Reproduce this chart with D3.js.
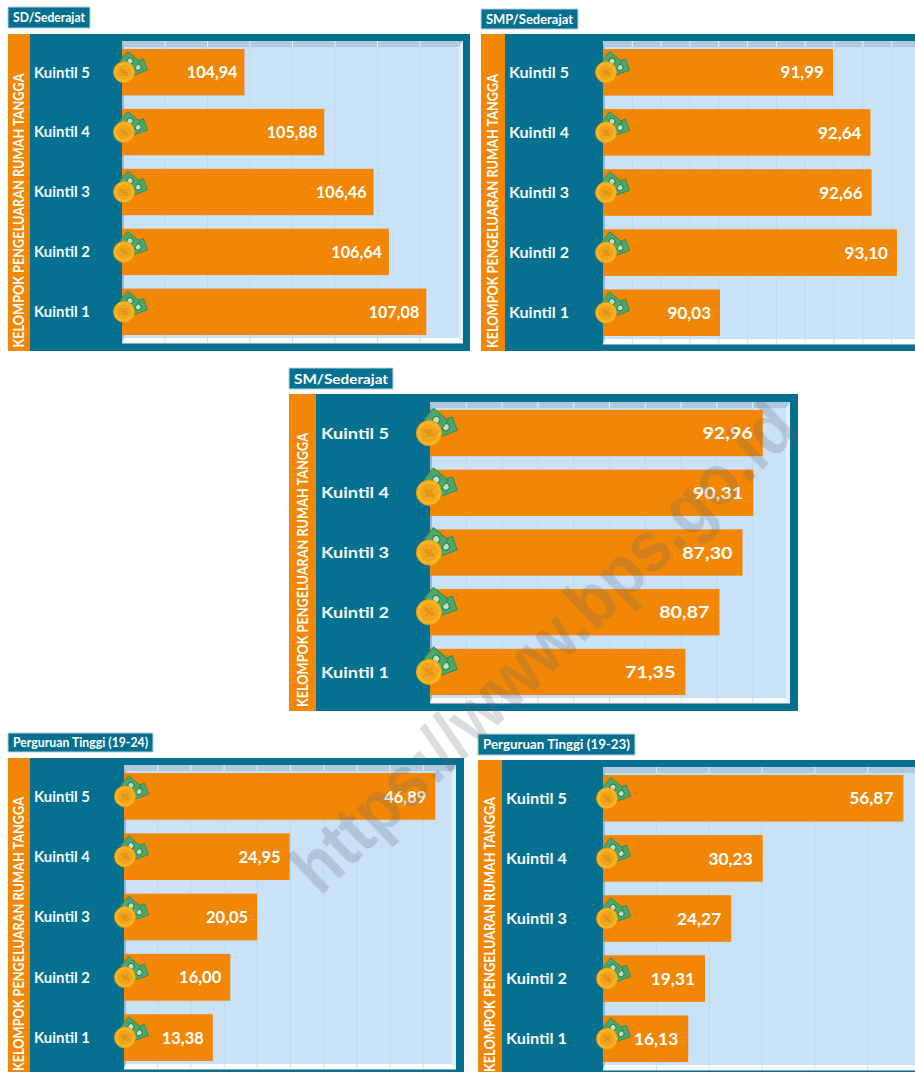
<!DOCTYPE html>
<html>
<head>
<meta charset="utf-8">
<script src="https://cdn.jsdelivr.net/npm/d3@7"></script>
<style>
    html, body { margin: 0; padding: 0; background: #fff; overflow: hidden; }
    text { font-family: Lato, "Open Sans", sans-serif; }
</style>
</head>
<body>
<div id="container"></div>
<script>
const kuintil = ['Kuintil 5', 'Kuintil 4', 'Kuintil 3', 'Kuintil 2', 'Kuintil 1'];

const sdValues = [104.94, 105.88, 106.46, 106.64, 107.08];
const smpValues = [91.99, 92.64, 92.66, 93.10, 90.03];
const smValues = [92.96, 90.31, 87.30, 80.87, 71.35];
const pt1924Values = [46.89, 24.95, 20.05, 16.00, 13.38];
const pt1923Values = [56.87, 30.23, 24.27, 19.31, 16.13];

const yTitle = 'KELOMPOK PENGELUARAN RUMAH TANGGA';

const colors = {
    teal: '#05708f',
    orange: '#f28705',
    wall: '#c9e2f8',
    grid: '#bfd9ee'
};

// frame = outer box, strip = right edge of orange band, x0/x1 = plot, top/bottom = plot
const panels = [
    { title: 'SD/Sederajat', values: sdValues, domain: [103.5, 107.5], step: 0.5,
      chip: [8, 7, 82, 21], chipFont: 13, frame: [8, 34, 470, 351], strip: 30, x0: 122, x1: 462,
      top: 41, bottom: 343, right: 463, labelX: 34, labelW: 56, labelFont: 15, valueFont: 17, valueStretch: 0.95, valuePad: 7, titleX: 19, titleY: 347.5, titleW: 274, coin: 1, coinDx: 2 },
    { title: 'SMP/Sederajat', values: smpValues, domain: [88, 93.5], step: 0.5,
      chip: [481, 9, 97, 20], chipFont: 13, frame: [481, 34, 925, 351], strip: 505, x0: 603, x1: 920,
      top: 41, bottom: 344, right: 925, labelX: 509, labelW: 60, labelFont: 15, valueFont: 17, valueStretch: 1, valuePad: 9, titleX: 493, titleY: 348, titleW: 274, coin: 1, coinDx: 3 },
    { title: 'SM/Sederajat', values: smValues, domain: [0, 100], step: 10,
      chip: [289, 368, 104, 21], chipFont: 14, frame: [289, 394, 798, 711], strip: 316, x0: 430, x1: 788,
      top: 402, bottom: 703, right: 790, labelX: 321, labelW: 68, labelFont: 15.5, valueFont: 17, valueStretch: 1.16, valuePad: 10, titleX: 303, titleY: 707, titleW: 274, coin: 1.2, coinDx: -1 },
    { title: 'Perguruan Tinggi (19-24)', values: pt1924Values, domain: [0, 50], step: 5,
      chip: [8, 733, 145, 19], chipFont: 13, frame: [8, 758, 464, 1085], strip: 30, x0: 124, x1: 456,
      top: 765, bottom: 1069, right: 456, labelX: 34, labelW: 56, labelFont: 15, valueFont: 17, valueStretch: 0.97, valuePad: 9, titleX: 19, titleY: 1071, titleW: 274, coin: 1, coinDx: 1 },
    { title: 'Perguruan Tinggi (19-23)', values: pt1923Values, domain: [0, 60], step: 10,
      chip: [478, 734, 157, 21], chipFont: 13, frame: [478, 760, 925, 1085], strip: 502, x0: 603, x1: 920,
      top: 767, bottom: 1070, right: 925, labelX: 506, labelW: 61, labelFont: 15, valueFont: 17, valueStretch: 1.02, valuePad: 10, titleX: 490, titleY: 1072, titleW: 275, coin: 1, coinDx: 4 }
];

const svg = d3.select('#container')
    .append('svg')
    .attr('width', 915)
    .attr('height', 1072)
    .style('display', 'block');

function drawPanel(p) {
    const g = svg.append('g');
    const [fx0, fy0, fx1, fy1] = p.frame;

    // title chip
    g.append('rect')
        .attr('x', p.chip[0]).attr('y', p.chip[1])
        .attr('width', p.chip[2]).attr('height', p.chip[3])
        .attr('fill', colors.teal)
        .attr('stroke', '#b9d3dc');
    g.append('text')
        .attr('x', p.chip[0] + 5)
        .attr('y', p.chip[1] + p.chip[3] / 2 + p.chipFont * 0.36)
        .attr('textLength', p.chip[2] - 10)
        .attr('lengthAdjust', 'spacingAndGlyphs')
        .attr('font-size', p.chipFont)
        .attr('font-weight', 700)
        .attr('fill', '#fff')
        .text(p.title);

    // frame
    g.append('rect')
        .attr('x', fx0).attr('y', fy0)
        .attr('width', fx1 - fx0).attr('height', fy1 - fy0)
        .attr('fill', colors.teal);
    g.append('rect')
        .attr('x', fx0).attr('y', fy0)
        .attr('width', p.strip - fx0).attr('height', fy1 - fy0)
        .attr('fill', colors.orange);
    g.append('text')
        .attr('transform', `translate(${p.titleX + 5},${p.titleY}) rotate(-90)`)
        .attr('textLength', p.titleW)
        .attr('lengthAdjust', 'spacingAndGlyphs')
        .attr('font-size', 14.5)
        .attr('font-weight', 700)
        .attr('fill', '#fff')
        .text(yTitle);

    // plot wall with bevels
    const wx0 = p.x0, wx1 = p.right, wy0 = p.top, wy1 = p.bottom;
    const bt = 6, bb = 5, bl = 2, br = 4;
    g.append('rect')
        .attr('x', wx0).attr('y', wy0)
        .attr('width', wx1 - wx0).attr('height', wy1 - wy0)
        .attr('fill', colors.wall);
    g.append('polygon')
        .attr('points', [[wx0, wy0], [wx1, wy0], [wx1 - br, wy0 + bt], [wx0 + bl, wy0 + bt]].join(' '))
        .attr('fill', '#afc9df');
    g.append('polygon')
        .attr('points', [[wx0, wy0], [wx0 + bl, wy0 + bt], [wx0 + bl, wy1 - bb], [wx0, wy1]].join(' '))
        .attr('fill', '#9db7cd');
    g.append('polygon')
        .attr('points', [[wx1, wy0], [wx1 - br, wy0 + bt], [wx1 - br, wy1 - bb], [wx1, wy1]].join(' '))
        .attr('fill', '#e2f0fb');
    g.append('polygon')
        .attr('points', [[wx0, wy1], [wx1, wy1], [wx1 - br, wy1 - bb], [wx0 + bl, wy1 - bb]].join(' '))
        .attr('fill', '#fbfdff');
    g.append('line')
        .attr('x1', wx0).attr('x2', wx1).attr('y1', wy1 + 0.5).attr('y2', wy1 + 0.5)
        .attr('stroke', '#8ea7b8');

    const x = d3.scaleLinear().domain(p.domain).range([p.x0, p.x1]);
    const y = d3.scaleBand()
        .domain(kuintil)
        .range([p.top, p.bottom])
        .paddingInner(0.225)
        .paddingOuter(0.133);

    // gridlines, white across the top bevel and pale across the bottom bevel
    const tickValues = d3.range(p.domain[0] + p.step, p.domain[1] + p.step / 2, p.step);
    const clipId = 'clip' + p.x0 + p.top;
    g.append('clipPath').attr('id', clipId)
        .append('rect')
        .attr('x', wx0).attr('y', wy0)
        .attr('width', wx1 - wx0 - br).attr('height', wy1 - wy0);
    const gridLayer = g.append('g').attr('clip-path', `url(#${clipId})`);
    const grid = gridLayer.append('g')
        .attr('transform', `translate(0,${wy1 - bb})`)
        .call(d3.axisTop(x).tickValues(tickValues).tickSize(wy1 - bb - wy0 - bt).tickFormat(''));
    grid.select('.domain').remove();
    grid.selectAll('line').attr('stroke', colors.grid);
    const gridTop = gridLayer.append('g')
        .attr('transform', `translate(0,${wy0 + bt})`)
        .call(d3.axisTop(x).tickValues(tickValues).tickSize(bt).tickFormat(''));
    gridTop.select('.domain').remove();
    gridTop.selectAll('line').attr('stroke', '#e6f1f9');
    const gridBottom = gridLayer.append('g')
        .attr('transform', `translate(0,${wy1})`)
        .call(d3.axisTop(x).tickValues(tickValues).tickSize(bb).tickFormat(''));
    gridBottom.select('.domain').remove();
    gridBottom.selectAll('line').attr('stroke', '#d5e2ec');

    // bars
    const rows = kuintil.map((k, i) => ({ k, v: p.values[i] }));
    g.append('g')
        .selectAll('rect')
        .data(rows)
        .enter()
        .append('rect')
        .attr('x', x(p.domain[0]))
        .attr('y', d => y(d.k))
        .attr('width', d => x(d.v) - x(p.domain[0]))
        .attr('height', y.bandwidth())
        .attr('fill', colors.orange);

    // value labels
    g.append('g')
        .selectAll('text')
        .data(rows)
        .enter()
        .append('text')
        .attr('x', d => x(d.v) - p.valuePad)
        .attr('y', d => y(d.k) + y.bandwidth() / 2 + p.valueFont * 0.36)
        .attr('text-anchor', 'end')
        .attr('font-size', p.valueFont)
        .attr('font-weight', 700)
        .attr('fill', '#fff')
        .text(d => d.v.toFixed(2).replace('.', ','))
        .attr('lengthAdjust', 'spacingAndGlyphs')
        .attr('textLength', function () { return this.getComputedTextLength() * p.valueStretch; });

    // category labels
    g.append('g')
        .selectAll('text')
        .data(kuintil)
        .enter()
        .append('text')
        .attr('x', p.labelX)
        .attr('y', d => y(d) + y.bandwidth() / 2 + p.labelFont * 0.36)
        .attr('textLength', p.labelW)
        .attr('lengthAdjust', 'spacingAndGlyphs')
        .attr('font-size', p.labelFont)
        .attr('font-weight', 700)
        .attr('fill', '#f4fbff')
        .text(d => d);

    // coin and banknote icons
    kuintil.forEach(k => {
        const icon = g.append('g')
            .attr('transform', `translate(${p.x0 + p.coinDx},${y(k) + y.bandwidth() / 2}) scale(${p.coin})`);
        [[14, -5, -20], [6, -11, 40]].forEach(([nx, ny, rot]) => {
            const note = icon.append('g').attr('transform', `translate(${nx},${ny}) rotate(${rot})`);
            note.append('rect').attr('x', -8).attr('y', -6).attr('width', 16).attr('height', 12)
                .attr('fill', '#4fa56c').attr('stroke', '#2f8a55').attr('stroke-width', 0.8);
            note.append('circle').attr('r', 3).attr('fill', '#bfe0bd').attr('stroke', '#2a7f4e').attr('stroke-width', 1);
        });
        icon.append('circle').attr('r', 10.5).attr('fill', '#f9b51f').attr('stroke', '#eb9a12').attr('stroke-width', 0.8);
        icon.append('circle').attr('r', 7.5).attr('fill', '#f3a41e');
        icon.append('text')
            .attr('text-anchor', 'middle')
            .attr('y', 3.5)
            .attr('font-size', 10)
            .attr('font-weight', 700)
            .attr('fill', '#d98a10')
            .text('%');
    });
}

panels.forEach(drawPanel);

// watermark
svg.append('text')
    .attr('transform', 'translate(320,897) rotate(-44)')
    .attr('textLength', 668)
    .attr('lengthAdjust', 'spacingAndGlyphs')
    .attr('font-size', 72)
    .attr('font-weight', 700)
    .style('font-family', '"Liberation Sans", Arial, sans-serif')
    .attr('fill', '#5f6770')
    .attr('fill-opacity', 0.23)
    .text('https://www.bps.go.id');
</script>
</body>
</html>
